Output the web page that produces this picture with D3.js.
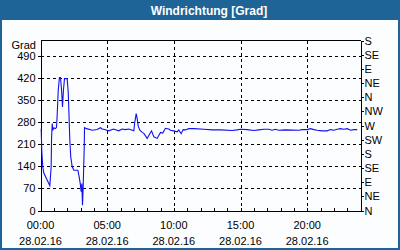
<!DOCTYPE html>
<html>
<head>
<meta charset="utf-8">
<script src="https://cdn.jsdelivr.net/npm/d3@7"></script>
<style>
  html, body { margin: 0; padding: 0; background: #fff; }
  svg { display: block; font-family: "Liberation Sans", Arial, sans-serif; }
  .grid line { stroke: #000; stroke-dasharray: 3,3; shape-rendering: crispEdges; }
  .axis path, .axis line { stroke: #000; shape-rendering: crispEdges; }
  .axis text { font-size: 11px; fill: #000; font-family: "Liberation Sans", Arial, sans-serif; }
  .line { fill: none; stroke: #1010f0; stroke-width: 1.1px; }
</style>
</head>
<body>
<svg id="chart" width="400" height="250"></svg>
<script>
// wind direction on 28.02.16, hour of day -> degrees
var hours = [0.05, 0.1, 0.17, 0.25, 0.7, 0.8, 0.83, 0.88, 0.92, 1.0, 1.12, 1.2, 1.25, 1.33, 1.42, 1.5,
  1.58, 1.65, 1.72, 1.8, 2.0, 2.08, 2.15, 2.2, 2.27, 2.38, 2.5, 2.8, 2.9, 2.98, 3.05, 3.1, 3.15, 3.2,
  3.28, 3.3, 3.45, 3.88, 4.25, 4.5, 4.63, 4.8, 5.12, 5.48, 5.87, 6.12, 6.37, 6.62, 7.0, 7.07, 7.18,
  7.25, 7.33, 7.45, 7.63, 7.75, 8.0, 8.25, 8.33, 8.5, 8.75, 9.0, 9.17, 9.37, 9.62, 9.75, 10.0, 10.25,
  10.37, 10.55, 10.7, 10.87, 11.12, 11.5, 12.25, 12.88, 13.5, 14.37, 14.75, 15.0, 15.5, 16.0, 16.37,
  16.75, 17.12, 17.37, 17.62, 17.87, 18.37, 19.37, 19.62, 20.0, 20.25, 20.5, 20.75, 21.12, 21.5,
  21.75, 22.0, 22.25, 22.5, 22.75, 23.0, 23.25, 23.5, 23.75];
var degrees = [260, 186, 139, 119, 79, 139, 230, 276, 255, 263, 260, 264, 302, 382, 422, 422,
  382, 329, 382, 419, 419, 376, 287, 223, 170, 139, 128, 128, 107, 86, 60, 86, 17, 75,
  202, 263, 260, 255, 257, 263, 259, 257, 253, 259, 253, 259, 257, 259, 253, 281, 308,
  292, 268, 255, 248, 245, 229, 248, 253, 234, 229, 248, 246, 261, 259, 255, 253, 250,
  256, 244, 257, 256, 260, 260, 258, 256, 256, 254, 256, 258, 257, 254, 256,
  258, 258, 255, 258, 255, 256, 255, 257, 257, 260, 257, 255, 253, 253,
  257, 255, 258, 260, 258, 260, 255, 257, 257];

var yTicks = [0, 70, 140, 210, 280, 350, 420, 490];
var xTicks = [0, 5, 10, 15, 20];
var xTickLabels = ["00:00", "05:00", "10:00", "15:00", "20:00"];
var dateLabel = "28.02.16";
var compass = ["N", "NE", "E", "SE", "S", "SW", "W", "NW", "N", "NE", "E", "SE", "S"];

var data = hours.map(function(h, i) { return {h: h, v: degrees[i]}; });

var svg = d3.select("#chart");
var W = 400, H = 250;
var plotLeft = 40.5, plotRight = 360.5, plotTop = 40.5, plotBottom = 210.5;

// frame and header
svg.append("rect").attr("x", 1).attr("y", 1).attr("width", W - 2).attr("height", H - 2)
  .attr("fill", "#fcfdff").attr("stroke", "#1e6496").attr("stroke-width", 2);
svg.append("rect").attr("x", 0).attr("y", 0).attr("width", W).attr("height", 20).attr("fill", "#1e6496");
svg.append("text").attr("x", 209).attr("y", 14.5).attr("text-anchor", "middle")
  .attr("fill", "#fff").style("font-weight", "bold").style("font-size", "12px")
  .text("Windrichtung [Grad]");

var x = d3.scaleLinear().domain([0, 24]).range([plotLeft, plotRight]);
var y = d3.scaleLinear().domain([0, 540]).range([plotBottom, plotTop]);

// dashed grid
var grid = svg.append("g").attr("class", "grid");
grid.selectAll(".gy").data(yTicks.slice(1)).enter().append("line")
  .attr("x1", plotLeft).attr("x2", plotRight)
  .attr("y1", function(d) { return Math.round(y(d)) + 0.5; })
  .attr("y2", function(d) { return Math.round(y(d)) + 0.5; });
grid.selectAll(".gx").data(xTicks.slice(1)).enter().append("line")
  .attr("y1", plotTop).attr("y2", plotBottom)
  .attr("x1", function(d) { return Math.round(x(d)) + 0.5; })
  .attr("x2", function(d) { return Math.round(x(d)) + 0.5; });

// top frame line
svg.append("line").attr("x1", plotLeft).attr("x2", plotRight).attr("y1", plotTop).attr("y2", plotTop)
  .attr("stroke", "#000").style("shape-rendering", "crispEdges");

// left axis
var yAxis = d3.axisLeft(y).tickValues(yTicks).tickSize(3).tickPadding(2).tickSizeOuter(0);
svg.append("g").attr("class", "axis").attr("transform", "translate(" + plotLeft + ",0)").call(yAxis);
svg.append("text").attr("x", 36).attr("y", 48.5).attr("text-anchor", "end")
  .style("font-size", "11px").text("Grad");

// right axis, compass points every 45 degrees
var yRight = d3.axisRight(y).tickValues(d3.range(0, 541, 45))
  .tickFormat(function(d, i) { return compass[i]; }).tickSize(3).tickPadding(1).tickSizeOuter(0);
svg.append("g").attr("class", "axis").attr("transform", "translate(" + plotRight + ",0)").call(yRight);

// bottom axis, hourly ticks pointing inward
var xAxis = d3.axisBottom(x).tickValues(d3.range(0, 25)).tickSize(-3).tickFormat("").tickSizeOuter(0);
svg.append("g").attr("class", "axis").attr("transform", "translate(0," + plotBottom + ")").call(xAxis);

var labels = svg.append("g").style("font-size", "11px").attr("text-anchor", "middle");
labels.selectAll(".t").data(xTicks).enter().append("text")
  .attr("x", function(d) { return x(d); }).attr("y", 229)
  .text(function(d, i) { return xTickLabels[i]; });
labels.selectAll(".d").data(xTicks).enter().append("text")
  .attr("x", function(d) { return x(d); }).attr("y", 245)
  .text(dateLabel);

// the wind direction line
var line = d3.line().x(function(d) { return x(d.h); }).y(function(d) { return y(d.v); });
svg.append("path").datum(data).attr("class", "line").attr("d", line);
</script>
</body>
</html>
